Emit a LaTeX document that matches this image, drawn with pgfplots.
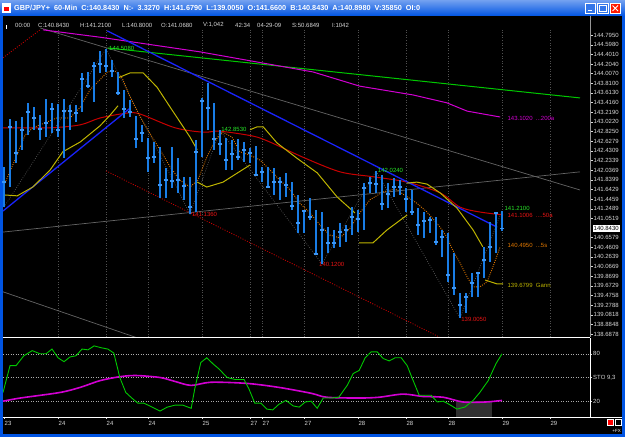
\documentclass[border=0pt]{standalone}
\usepackage{pgfplots}
\usepackage{pgfplotstable}
\pgfplotsset{compat=1.18}
\usepackage{fontspec}
\setmainfont{Liberation Sans}
\definecolor{winblue}{RGB}{0,84,227}
\definecolor{barblue}{RGB}{25,125,230}
\definecolor{tickblue}{RGB}{60,150,245}
\definecolor{mag}{RGB}{210,0,210}
\definecolor{grn}{RGB}{0,200,0}
\definecolor{lgrn}{RGB}{40,230,40}
\definecolor{gry}{RGB}{100,100,100}
\definecolor{tblue}{RGB}{25,35,250}
\definecolor{dred}{RGB}{200,0,0}
\definecolor{lred}{RGB}{235,20,20}
\definecolor{ylw}{RGB}{190,180,0}
\definecolor{org}{RGB}{225,120,0}
\definecolor{zig}{RGB}{80,80,80}
\definecolor{txt}{RGB}{215,215,215}
\newcommand{\sm}{\fontsize{6}{6}\selectfont}

\pgfplotstableread{
i h l c
0 142.10 141.28 141.79
1 143.08 141.69 142.92
2 143.04 142.18 142.39
3 143.12 142.45 142.86
4 143.41 142.75 143.22
5 143.32 142.86 143.10
6 143.16 142.65 142.88
7 143.49 142.71 143.00
8 143.41 142.79 143.28
9 143.39 142.71 142.86
10 143.49 142.28 143.24
11 143.37 142.86 143.24
12 143.37 143.02 143.20
13 144.02 143.22 143.90
14 144.04 143.71 143.75
15 144.24 143.43 144.16
16 144.47 144.02 144.20
17 144.51 144.04 144.16
18 144.29 143.94 144.06
19 144.04 143.57 143.61
20 143.67 143.10 143.28
21 143.47 143.12 143.22
22 143.14 142.49 142.67
23 142.96 142.61 142.79
24 142.69 142.00 142.28
25 142.61 142.18 142.30
26 142.51 141.47 141.73
27 142.08 141.47 141.83
28 142.51 141.67 141.81
29 142.28 141.57 141.83
30 141.90 141.43 141.71
31 141.90 141.14 141.28
32 142.65 141.18 142.41
33 143.51 142.30 143.45
34 143.82 142.86 143.30
35 143.41 142.45 142.67
36 142.85 142.34 142.57
37 142.69 142.04 142.24
38 142.65 142.04 142.37
39 142.67 142.24 142.30
40 142.61 142.20 142.45
41 142.49 142.18 142.39
42 142.53 141.92 141.94
43 142.10 141.79 142.00
44 142.10 141.67 141.69
45 142.08 141.53 141.79
46 141.90 141.43 141.79
47 141.98 141.49 141.73
48 141.79 141.22 141.30
49 141.53 140.75 140.96
50 141.22 140.75 141.20
51 141.47 141.02 141.08
52 141.22 140.30 140.32
53 141.18 140.12 140.81
54 140.87 140.34 140.55
55 140.81 140.45 140.55
56 140.96 140.47 140.77
57 140.91 140.57 140.81
58 141.28 140.71 141.08
59 141.22 140.77 141.04
60 141.77 140.81 141.67
61 141.90 141.57 141.77
62 142.02 141.57 141.75
63 141.94 141.22 141.34
64 141.77 141.26 141.55
65 141.87 141.49 141.69
66 141.83 141.53 141.69
67 141.67 141.18 141.45
68 141.63 141.12 141.18
69 141.26 140.71 140.91
70 141.18 140.65 141.00
71 141.08 140.75 141.02
72 141.08 140.51 140.57
73 140.81 140.26 140.67
74 140.75 139.75 139.89
75 140.34 139.49 139.63
76 139.53 139.01 139.28
77 139.53 139.12 139.44
78 139.93 139.44 139.73
79 139.95 139.44 139.93
80 140.47 139.83 140.20
81 140.98 140.16 140.47
82 141.18 140.34 141.16
83 141.21 140.80 140.84
}\bars

\begin{document}
\begin{tikzpicture}[x=1pt,y=1pt]
% window frame
\fill[winblue] (0,0) rectangle (625,437);
\shade[top color=winblue!55!white, bottom color=winblue] (0,421) rectangle (625,437);
\fill[black] (3,3) rectangle (622,421);
% title icon
\fill[white] (2,424) rectangle (11,434);
\fill[red] (4,426) rectangle (9,430);
\node[anchor=west, text=white, inner sep=0pt, font=\fontsize{7.3}{7.3}\selectfont\bfseries] at (14,429)
 {GBP/JPY+ \ 60-Min \ C:140.8430 \ N:- \ 3.3270 \ H:141.6790 \ L:139.0050 \ O:141.6600 \ B:140.8430 \ A:140.8980 \ V:35850 \ OI:0};
% buttons
\fill[winblue!80!white, draw=white] (585,423.5) rectangle (595.5,434);
\draw[white, line width=1pt] (587.5,426) -- (591.5,426);
\fill[winblue!80!white, draw=white] (597.5,423.5) rectangle (608,434);
\draw[white, line width=0.8pt] (599.5,425.5) rectangle (606,432);
\fill[red!80!orange, draw=white] (610,423.5) rectangle (620.5,434);
\draw[white, line width=1pt] (612.5,426) -- (618,431.5) (612.5,431.5) -- (618,426);
% info line
\begin{scope}[every node/.style={anchor=west, text=txt, inner sep=0pt, font=\sm}]
\node at (15,412) {00:00};
\node at (38,412) {C:140.8430};
\node at (80,412) {H:141.2100};
\node at (122,412) {L:140.8000};
\node at (161,412) {O:141.0680};
\node at (203,412) {V:1,042};
\node at (235,412) {42:34};
\node at (257,412) {04-29-09};
\node at (292,412) {S:50.6849};
\node at (332,412) {I:1042};
\end{scope}
\draw[white, line width=0.8pt] (6,408) -- (6,412);

% ---------------- main price pane ----------------
\begin{axis}[
  at={(3pt,100pt)}, anchor=south west, scale only axis,
  width=587pt, height=321pt,
  xmin=-0.17, xmax=97.67, ymin=138.627, ymax=145.183,
  axis x line=none, axis y line*=right,
  y axis line style={draw=txt!70!black, -},
  ytick={144.795,144.598,144.401,144.204,144.007,143.810,143.613,143.416,143.219,143.022,142.825,142.628,142.431,142.234,142.037,141.840,141.643,141.446,141.249,141.052,140.658,140.461,140.264,140.067,139.870,139.673,139.476,139.279,139.082,138.885,138.688},
  yticklabels={144.7950,144.5980,144.4010,144.2040,144.0070,143.8100,143.6130,143.4160,143.2190,143.0220,142.8250,142.6279,142.4309,142.2339,142.0369,141.8399,141.6429,141.4459,141.2489,141.0519,140.6579,140.4609,140.2639,140.0669,139.8699,139.6729,139.4758,139.2788,139.0818,138.8848,138.6878},
  tick align=outside, major tick length=2.5pt,
  ytick style={draw=txt},
  yticklabel style={font=\sm, text=txt, inner sep=1pt},
  clip mode=individual,
]
% vertical grid
\pgfplotsinvokeforeach{9,17,24,33,41,43,50,59,67,74,83,91}{
  \draw[zig, dash pattern=on 0.6pt off 2pt] (axis cs:#1,138.627) -- (axis cs:#1,144.90);
}
% gray lines
\addplot[gry, line width=0.7pt] coordinates {(6,144.94) (96,141.63)};
\addplot[gry, line width=0.7pt] coordinates {(-0.17,140.77) (96,142.00)};
\addplot[gry, line width=0.7pt] coordinates {(-0.17,139.55) (26,138.45)};
% green trend
\addplot[grn, line width=1pt] coordinates {(17.3,144.53) (96,143.51)};
% magenta 200a
\addplot[mag, line width=1pt] coordinates {(6.5,144.90) (16,144.75) (32.7,144.45) (46,144.16) (51.5,144.04) (59.3,143.75) (68.2,143.57) (73.8,143.41) (77.2,143.24) (82.7,143.12)};
% red dotted channel
\addplot[dred, line width=0.8pt, dash pattern=on 1pt off 1.5pt] coordinates {(-0.17,144.33) (6,144.90)};
\addplot[dred, line width=0.8pt, dash pattern=on 1pt off 1.5pt] coordinates {(17,142.02) (73,138.60)};
% zigzag
\addplot[zig, line width=0.7pt, dash pattern=on 0.8pt off 1.5pt] coordinates {(0,141.28) (17,144.51) (31,141.14) (36,142.85) (53,140.12) (62,142.02) (76,139.01) (83,141.21)};
% red 50a
\addplot[dred, line width=1pt, smooth] coordinates {(-0.17,142.90) (7.7,142.90) (12.7,142.96) (16,143.10) (20.5,143.20) (22.7,143.18) (28.5,142.90) (33.2,142.81) (36,142.83) (41.5,142.73) (44.3,142.61) (49.8,142.30) (56,142.00) (61.5,141.90) (67.2,141.79) (72.7,141.57) (76,141.28) (79.3,141.18) (83.2,141.12)};
% blue trendlines
\addplot[tblue, line width=1.3pt] coordinates {(17.2,144.88) (82.2,140.87)};
\addplot[tblue, line width=1.3pt] coordinates {(-0.17,141.20) (21,143.30)};
% yellow Gann
\addplot[ylw, line width=1pt, unbounded coords=jump] coordinates {
 (-0.17,141.53) (2.2,141.51) (4.8,141.69) (7.7,142.04) (9.8,142.41) (12.7,142.61) (16,142.94) (17.7,143.16) (19,143.35) (19,nan)
 (19,143.92) (21,144.02) (23.2,144.02) (25.5,143.73) (27.7,143.32) (31,142.71) (32.2,142.45) (32.2,nan)
 (32.2,141.79) (33.8,141.69) (36.5,141.79) (41,142.14) (41,nan)
 (41,142.86) (42.2,142.92) (43.2,142.92) (45.5,142.59) (48.8,142.28) (52.2,141.98) (55.5,141.49) (58.5,141.16) (58.5,nan)
 (59.2,140.55) (61.5,140.55) (63.8,140.81) (67.2,141.12) (67.2,nan)
 (67.2,141.77) (68.8,141.79) (70.5,141.75) (72.7,141.57) (75.5,141.26) (78.2,140.81) (79.8,140.47) (79.8,nan)
 (80.2,139.79) (82.2,139.71) (83.2,139.71)};
% orange dotted 5s
\addplot[org, line width=0.9pt, dash pattern=on 0.9pt off 1.3pt] coordinates {
 (0.17,141.77) (1.8,142.24) (3.5,142.75) (4.8,142.90) (7.2,143.02) (8.8,143.10) (11,143.10) (12.7,143.32) (14.3,143.67) (16,143.88) (17.2,144.04) (18.5,144.06) (19.7,143.92) (21,143.53) (22.7,143.12) (24.3,142.79) (26,142.45) (27.7,142.10) (29.3,141.83) (31,141.69) (32.3,141.83) (33.8,142.30) (35.2,142.65) (36.5,142.81) (38,142.71) (39.3,142.41) (41,142.34) (42.7,142.24) (44.3,142.04) (46,141.83) (47.7,141.63) (49.3,141.36) (51,141.16) (52.7,140.91) (54.3,140.71) (56,140.65) (57.7,140.85) (59.3,141.16) (61,141.43) (63.2,141.59) (65.2,141.65) (67.2,141.49) (68.8,141.36) (70.5,141.18) (72.7,140.87) (73.8,140.67) (74.8,140.40) (76,140.14) (77.2,139.85) (78.2,139.65) (79.3,139.65) (80.5,139.75) (81.5,140.06) (82.7,140.47)};
% price bars
\addplot[only marks, mark=-, mark size=2.4pt, mark options={line width=1.6pt, draw=tickblue},
  error bars/.cd, y dir=both, y explicit, error mark=none,
  error bar style={line width=1.3pt, barblue}]
  table[x=i, y=c, y error plus expr=\thisrow{h}-\thisrow{c}, y error minus expr=\thisrow{c}-\thisrow{l}] {\bars};
% annotations
\begin{scope}[every node/.style={anchor=west, inner sep=0pt, font=\sm}]
\node[text=lgrn] at (axis cs:17.5,144.53) {144.5080};
\node[text=lred] at (axis cs:31.3,141.13) {141.1360};
\node[text=lgrn] at (axis cs:36.2,142.86) {142.8530};
\node[text=lred] at (axis cs:52.5,140.11) {140.1200};
\node[text=lgrn] at (axis cs:62.3,142.03) {142.0240};
\node[text=lred] at (axis cs:76.2,138.99) {139.0050};
\node[text=lgrn] at (axis cs:83.4,141.26) {141.2100};
\node[text=lred] at (axis cs:83.9,141.10) {141.1006 \ ....50a};
\node[text=org] at (axis cs:83.9,140.495) {140.4950 \ ...5s};
\node[text=ylw] at (axis cs:83.9,139.68) {139.6799 \ Gann};
\node[text=mag] at (axis cs:83.9,143.10) {143.1020 \ ...200a};
\node[fill=white, text=black, inner sep=1pt, font=\sm] at (axis cs:97.67,140.843) [xshift=2.5pt] {140.8430};
\end{scope}
\end{axis}

% ---------------- stochastic pane ----------------
\begin{axis}[
  at={(3pt,20pt)}, anchor=south west, scale only axis,
  width=587pt, height=79pt,
  xmin=-0.17, xmax=97.67, ymin=0, ymax=100,
  axis x line*=bottom, axis y line*=right,
  axis line style={draw=white, -},
  xtick={0,9,17,24,33,41,43,50,59,67,74,83,91},
  xticklabels={23,24,24,24,25,27,27,27,28,28,28,29,29},
  ytick={20,50,80}, yticklabels={20,{STO 9,3},80},
  tick align=outside, major tick length=2pt, tick style={draw=txt},
  ticklabel style={font=\sm, text=txt, inner sep=1pt},
  xticklabel style={anchor=north, xshift=4pt, yshift=-1.5pt},
  clip mode=individual,
]
\pgfplotsinvokeforeach{20,50,80}{
  \draw[txt!80!black, dash pattern=on 1pt off 1.5pt] (axis cs:-0.17,#1) -- (axis cs:97.67,#1);
}
\addplot[fill={rgb,255:red,48;green,48;blue,48}, draw=none] coordinates {(75.3,0) (75.3,20) (81.3,20) (81.3,0)} -- cycle;
\addplot[mag, line width=1.6pt, smooth] coordinates {(-0.17,20) (2.7,24) (9.3,31) (12.7,37.5) (16,46) (19.3,51) (22,52.5) (26,50) (28.5,45) (31.2,40) (34.5,44) (40.5,42.5) (45.8,37.5) (51.2,30) (53.8,25) (59.2,24) (62.5,25) (66.5,29) (69.8,26) (73.2,25) (76.5,19) (80.3,19) (83,21)};
\addplot[grn, line width=0.9pt] coordinates {
 (-0.17,31) (1,65) (2,65) (3.3,77.5) (4.7,84) (6,80) (7,80) (8,86) (9,75) (10,70) (11,76) (12,77.5) (13,86) (14,85) (15,90) (16.3,87.5) (17.3,86) (18.3,81) (19.3,50) (20.3,31) (21.3,24) (22.3,17.5) (23.3,17.5) (24.3,14) (26,7.5) (27.2,12.5) (28.5,15) (29.8,15) (31.2,11) (31.8,36) (32.8,69) (33.8,75) (34.8,67.5) (35.8,61) (37.2,50) (38.5,47.5) (40,47.5) (40.8,36) (41.8,17.5) (42.8,17.5) (43.8,10) (44.8,9) (45.8,16) (47,21) (48.2,14) (49.2,12.5) (50.2,19) (51.2,20) (52.2,11) (53.2,24) (54.5,24) (55.8,25) (57.2,40) (58.2,55) (59.2,59) (60.2,75) (61.2,82.5) (62.2,82.5) (63.2,74) (64.2,71) (65.2,75) (66.2,75) (67.2,65) (68.2,46) (69.2,27.5) (70.2,27.5) (71.2,27.5) (72.2,19) (73.2,20) (74.2,16) (75.5,10) (76.8,12.5) (78.2,21) (79.3,31) (80.7,46) (82,67.5) (83,80)};
\end{axis}

% frame lines
\draw[white, line width=0.8pt] (3,100) -- (590,100);
\draw[white, line width=0.8pt] (3,19.6) -- (622,19.6);
% bottom-right controls
\fill[red, draw=white, line width=0.4pt] (607,12) rectangle (613,18);
\draw[white, line width=0.4pt] (615,12) rectangle (621,18);
\node[anchor=east, text=white, inner sep=0pt, font=\fontsize{4.5}{4.5}\selectfont] at (621,6.5) {+FX};
\end{tikzpicture}
\end{document}
